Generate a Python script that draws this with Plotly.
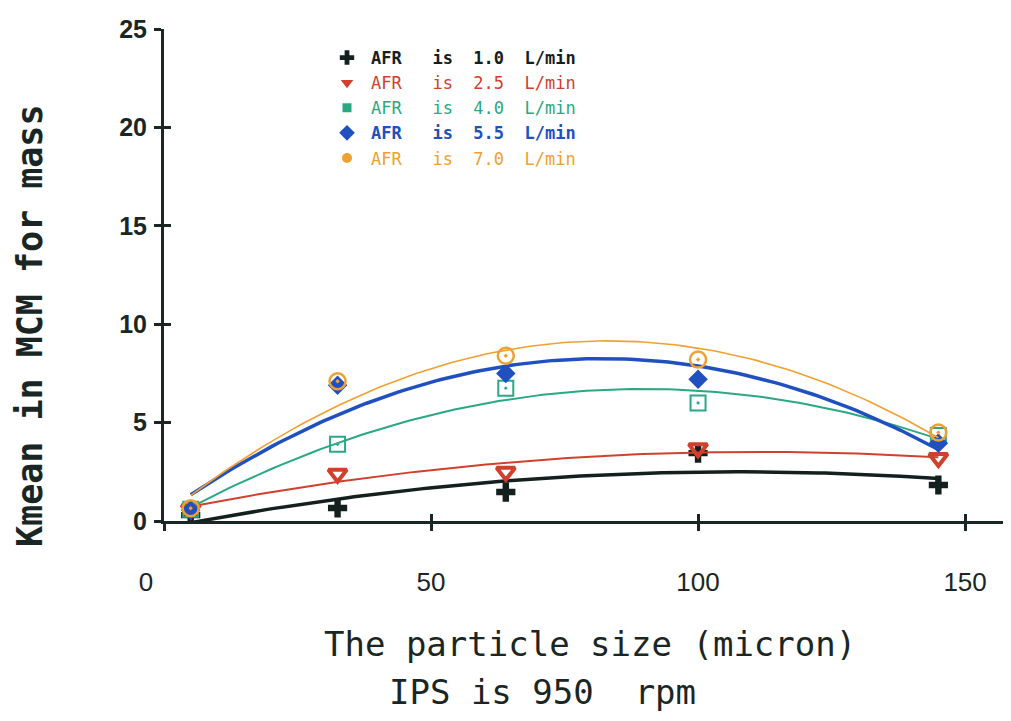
import numpy as np
import plotly.graph_objects as go

# Particle sizes (micron)
sizes = [5, 32.5, 64, 100, 145]

# Kmean values per AFR series
afr_1_0 = [0.30, 0.66, 1.47, 3.45, 1.83]
afr_2_5 = [0.60, 2.40, 2.50, 3.70, 3.20]
afr_4_0 = [0.60, 3.90, 6.75, 6.00, 4.35]
afr_5_5 = [0.55, 6.90, 7.50, 7.20, 3.95]
afr_7_0 = [0.65, 7.10, 8.40, 8.20, 4.50]

series_names = ["AFR   is  1.0  L/min", "AFR   is  2.5  L/min", "AFR   is  4.0  L/min",
                "AFR   is  5.5  L/min", "AFR   is  7.0  L/min"]
series_values = [afr_1_0, afr_2_5, afr_4_0, afr_5_5, afr_7_0]

y_ticks = [0, 5, 10, 15, 20, 25]
x_ticks = [0, 50, 100, 150]
x_tick_text = ["0     ", "50", "100", "150"]

colors = ["#14201e", "#d0402c", "#2aa884", "#2050c0", "#f0a030"]
symbols = ["cross", "triangle-down-open", "square-open-dot", "diamond", "circle-open-dot"]
legend_symbols = ["cross", "triangle-down", "square", "diamond", "circle"]
legend_sizes = [12, 11, 9, 12, 10]
msizes = [16, 16, 15, 15, 16]
mlw = [0, 4, 2, 0, 2.5]
line_w = [3.5, 2, 2, 3.5, 1.6]
bold = [True, False, False, True, False]

fig = go.Figure()
xs = np.array(sizes, dtype=float)
xfit = np.linspace(min(sizes), max(sizes), 120)
for name, vals, c, s, ms, lw, lwid, b, ls, lsz in zip(series_names, series_values, colors,
                                                       symbols, msizes, mlw, line_w, bold,
                                                       legend_symbols, legend_sizes):
    coef = np.polyfit(xs, np.array(vals), 2)
    fig.add_trace(go.Scatter(x=xfit, y=np.polyval(coef, xfit), mode="lines",
                             line=dict(color=c, width=lwid), showlegend=False,
                             hoverinfo="skip"))
    fig.add_trace(go.Scatter(x=sizes, y=vals, mode="markers", showlegend=False,
                             marker=dict(symbol=s, size=ms, color=c,
                                         line=dict(color=c, width=lw))))
    label = f"<span style='color:{c}'>{'<b>' + name + '</b>' if b else name}</span>"
    fig.add_trace(go.Scatter(x=[None], y=[None], mode="markers", name=label,
                             marker=dict(symbol=ls, size=lsz, color=c)))

# invisible trace for overlay axes (crossing ticks)
fig.add_trace(go.Scatter(x=[None], y=[None], xaxis="x2", yaxis="y2", showlegend=False))

# page has an 8px body margin: compensate so the plot lands where the reference has it
W, H = 1003, 713
L, T, B = 156, 21, 200
pw, ph = W - L, H - T - B   # 847 x 492


def px_x(p):  # page pixel -> paper x
    return (p - 164) / pw


def px_y(p):  # page pixel -> paper y
    return (521 - p) / ph


ink = "#1a2624"
fig.update_layout(
    width=W, height=H,
    paper_bgcolor="white", plot_bgcolor="white",
    margin=dict(l=L, r=0, t=T, b=B),
    showlegend=True,
    legend=dict(x=px_x(323), y=px_y(40), xanchor="left", yanchor="top",
                bgcolor="rgba(0,0,0,0)", borderwidth=0,
                font=dict(family="DejaVu Sans Mono", size=17),
                itemwidth=38, tracegroupgap=0),
    xaxis=dict(range=[0, 158.6], tickvals=x_ticks, ticktext=x_tick_text,
               showgrid=False, zeroline=False,
               showline=True, linecolor=ink, linewidth=3,
               ticks="outside", ticklen=7, tickwidth=3, tickcolor=ink,
               ticklabelstandoff=29,
               tickfont=dict(family="Liberation Sans Narrow, Liberation Sans, Arial",
                             size=26, color=ink)),
    yaxis=dict(range=[0, 25], tickvals=y_ticks, showgrid=False, zeroline=False,
               showline=True, linecolor=ink, linewidth=3,
               ticks="outside", ticklen=7, tickwidth=3, tickcolor=ink,
               ticklabelstandoff=2,
               tickfont=dict(family="Liberation Sans Narrow, Liberation Sans, Arial",
                             size=25, color=ink, weight="bold")),
    xaxis2=dict(overlaying="x", matches="x", anchor="y2", tickvals=x_ticks,
                showticklabels=False, showgrid=False, zeroline=False, showline=False,
                ticks="inside", ticklen=7, tickwidth=3, tickcolor=ink),
    yaxis2=dict(overlaying="y", matches="y", anchor="x2", tickvals=y_ticks,
                showticklabels=False, showgrid=False, zeroline=False, showline=False,
                ticks="inside", ticklen=7, tickwidth=3, tickcolor=ink),
)

title_font = dict(family="DejaVu Sans Mono", size=34, color=ink)
fig.add_annotation(text="<b>Kmean in MCM for mass</b>", xref="paper", yref="paper",
                   x=px_x(30), y=px_y(326), xanchor="center", yanchor="middle",
                   textangle=-90, showarrow=False,
                   font=dict(family="DejaVu Sans Mono", size=35, color=ink))
fig.add_annotation(text="The particle size (micron)", xref="paper", yref="paper",
                   x=px_x(322), y=px_y(644), xanchor="left", yanchor="middle",
                   showarrow=False, font=title_font)
fig.add_annotation(text="IPS is 950  rpm", xref="paper", yref="paper",
                   x=px_x(387), y=px_y(692), xanchor="left", yanchor="middle",
                   showarrow=False, font=title_font)

fig.write_html("out.html")
